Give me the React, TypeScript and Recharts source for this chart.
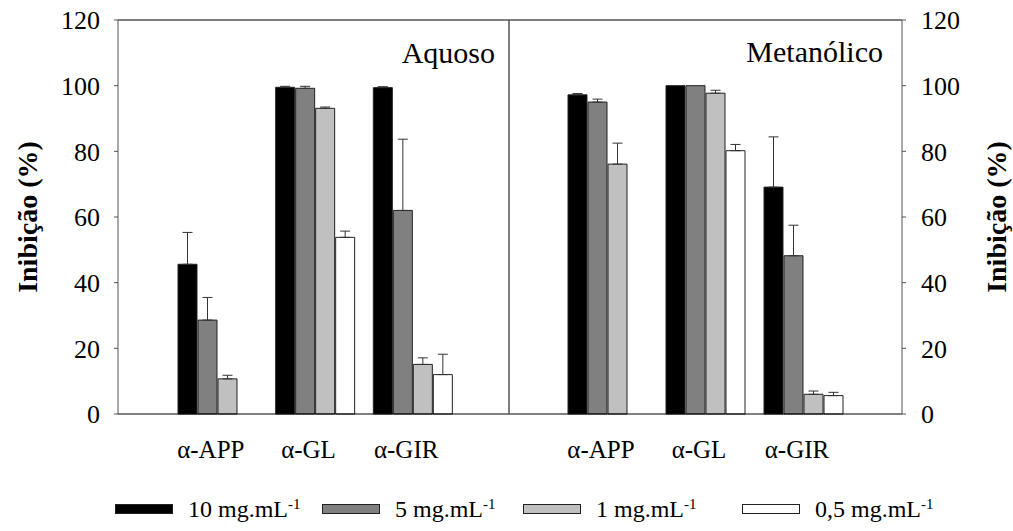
import { BarChart, Bar, XAxis, YAxis, ErrorBar, Legend } from 'recharts';

const categories = ['α-APP', 'α-GL', 'α-GIR'];
const seriesNames = ['10 mg.mL', '5 mg.mL', '1 mg.mL', '0,5 mg.mL'];
const seriesFills = ['#000000', '#808080', '#c0c0c0', '#ffffff'];
const yTicks = [0, 20, 40, 60, 80, 100, 120];

// extrato aquoso (média e desvio, só para cima)
const aq10 = [45.6, 99.5, 99.4];
const aq10Err = [9.7, 0.3, 0.3];
const aq5 = [28.6, 99.2, 62.0];
const aq5Err = [6.9, 0.6, 21.7];
const aq1 = [10.7, 93.1, 15.1];
const aq1Err = [1.1, 0.4, 2.0];
const aq05 = [null, 53.8, 12.0];
const aq05Err = [null, 1.9, 6.2];

// extrato metanólico
const me10 = [97.2, 100, 69.1];
const me10Err = [0.4, null, 15.3];
const me5 = [95.0, 100, 48.2];
const me5Err = [0.9, null, 9.3];
const me1 = [76.1, 97.7, 6.0];
const me1Err = [6.4, 0.9, 1.0];
const me05 = [null, 80.2, 5.6];
const me05Err = [null, 1.9, 1.0];

type Val = number | null;

function makeRows(values: Val[][], errors: Val[][]) {
  return categories.map((name, i) => {
    const row: Record<string, unknown> = { name };
    values.forEach((v, s) => {
      row[`s${s}`] = v[i];
      row[`e${s}`] = errors[s][i] == null ? null : [0, errors[s][i]];
    });
    return row;
  });
}

const aqRows = makeRows([aq10, aq5, aq1, aq05], [aq10Err, aq5Err, aq1Err, aq05Err]);
const meRows = makeRows([me10, me5, me1, me05], [me10Err, me5Err, me1Err, me05Err]);

const FONT = '"Liberation Serif", "Times New Roman", Times, "DejaVu Serif", serif';
const tickStyle = { fontSize: 26, fill: '#000', fontFamily: FONT };
const catTick = { fontSize: 25, fill: '#000', fontFamily: FONT, dx: -6 };
// posição horizontal de cada item da legenda
const legendLeft = [0, 207, 408, 627];

function AxisTitle(props: any) {
  const { viewBox, shift } = props;
  const x = viewBox.x + shift;
  const y = viewBox.y + viewBox.height / 2;
  return (
    <text
      x={x}
      y={y}
      transform={`rotate(-90 ${x} ${y})`}
      textAnchor="middle"
      dominantBaseline="central"
      fontSize={28}
      fontWeight="bold"
      style={{ fontFamily: FONT }}
      fill="#000"
    >
      Inibição (%)
    </text>
  );
}

function LegendContent() {
  return (
    <div style={{ position: 'relative', height: 26, fontFamily: FONT, color: '#000' }}>
      {seriesNames.map((n, i) => (
        <div
          key={n}
          style={{ position: 'absolute', left: legendLeft[i], top: 0, display: 'flex', alignItems: 'center' }}
        >
          <div
            style={{
              width: 56,
              height: 8,
              background: seriesFills[i],
              border: '1px solid #222',
              marginRight: 15,
            }}
          />
          <span style={{ fontSize: 24, lineHeight: '24px', whiteSpace: 'nowrap' }}>
            {n}
            <sup style={{ fontSize: 15, verticalAlign: 'top', position: 'relative', top: -5 }}>-1</sup>
          </span>
        </div>
      ))}
    </div>
  );
}

const renderBars = (yAxisId: string) =>
  seriesNames.map((n, i) => (
    <Bar
      key={n}
      dataKey={`s${i}`}
      name={n}
      xAxisId="b"
      yAxisId={yAxisId}
      fill={seriesFills[i]}
      stroke="#222"
      strokeWidth={1}
      isAnimationActive={false}
    >
      <ErrorBar dataKey={`e${i}`} direction="y" width={5} stroke="#333" strokeWidth={1} />
    </Bar>
  ));

export default function App() {
  return (
    <div
      style={{
        position: 'absolute',
        left: 0,
        top: 0,
        width: 1013,
        height: 531,
        background: '#fff',
        fontFamily: FONT,
      }}
    >
      <div style={{ position: 'absolute', left: 0, top: 0 }}>
        <BarChart
          width={1013}
          height={531}
          data={aqRows}
          margin={{ top: 19, right: 503, bottom: 77, left: 0 }}
          barCategoryGap={10}
          barGap={1}
          style={{ fontFamily: FONT }}
        >
          <XAxis
            xAxisId="b"
            dataKey="name"
            height={40}
            padding={{ left: 50, right: 48 }}
            tickLine={false}
            tickSize={0}
            tickMargin={26}
            tick={catTick}
            axisLine={{ stroke: '#000' }}
          />
          <XAxis xAxisId="t" orientation="top" dataKey="name" height={1} tick={false} tickLine={false} axisLine={{ stroke: '#000' }} />
          <YAxis
            yAxisId="l"
            width={118}
            domain={[0, 120]}
            ticks={yTicks}
            tickSize={4}
            tickMargin={14}
            tick={tickStyle}
            axisLine={{ stroke: '#555' }}
            tickLine={{ stroke: '#555' }}
            label={<AxisTitle shift={27} />}
          />
          <YAxis
            yAxisId="r"
            orientation="right"
            width={1}
            domain={[0, 120]}
            ticks={yTicks}
            tick={false}
            tickLine={false}
            axisLine={{ stroke: '#555' }}
          />
          {renderBars('l')}
          <text x={495} y={63} textAnchor="end" fontSize={30} style={{ fontFamily: FONT }} fill="#000">
            Aquoso
          </text>
          <Legend
            layout="horizontal"
            verticalAlign="middle"
            align="center"
            wrapperStyle={{ top: 497, left: 115, width: 900 }}
            content={() => <LegendContent />}
          />
        </BarChart>
      </div>
      <div style={{ position: 'absolute', left: 499, top: 0 }}>
        <BarChart
          width={514}
          height={531}
          data={meRows}
          margin={{ top: 19, right: 0, bottom: 77, left: 9 }}
          barCategoryGap={10}
          barGap={1}
          style={{ fontFamily: FONT }}
        >
          <XAxis
            xAxisId="b"
            dataKey="name"
            height={40}
            padding={{ left: 49, right: 50 }}
            tickLine={false}
            tickSize={0}
            tickMargin={26}
            tick={catTick}
            axisLine={{ stroke: '#000' }}
          />
          <XAxis xAxisId="t" orientation="top" dataKey="name" height={1} tick={false} tickLine={false} axisLine={{ stroke: '#000' }} />
          <YAxis
            yAxisId="l"
            width={1}
            domain={[0, 120]}
            ticks={yTicks}
            tickSize={4}
            tickFormatter={() => ''}
            axisLine={{ stroke: '#555' }}
            tickLine={{ stroke: '#555' }}
          />
          <YAxis
            yAxisId="r"
            orientation="right"
            width={111}
            domain={[0, 120]}
            ticks={yTicks}
            tickSize={4}
            tickMargin={15}
            tick={tickStyle}
            axisLine={{ stroke: '#555' }}
            tickLine={{ stroke: '#555' }}
            label={<AxisTitle shift={94} />}
          />
          {renderBars('r')}
          <text x={384} y={62} textAnchor="end" fontSize={30} style={{ fontFamily: FONT }} fill="#000">
            Metanólico
          </text>
        </BarChart>
      </div>
    </div>
  );
}
